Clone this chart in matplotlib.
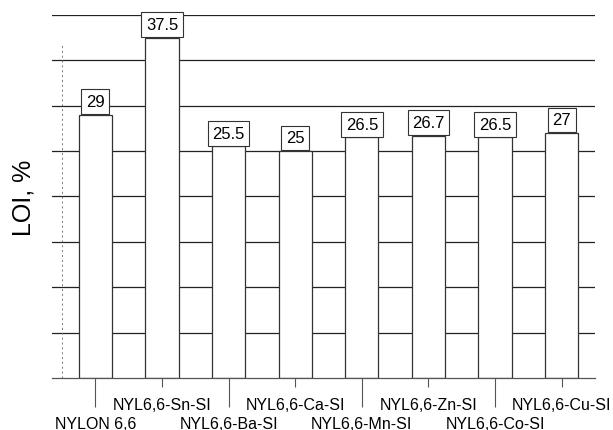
import matplotlib
matplotlib.use("Agg")
import matplotlib.pyplot as plt
import numpy as np

plt.rcParams["font.family"] = ["Liberation Sans", "DejaVu Sans"]

samples = [
    "NYLON 6,6",
    "NYL6,6-Sn-SI",
    "NYL6,6-Ba-SI",
    "NYL6,6-Ca-SI",
    "NYL6,6-Mn-SI",
    "NYL6,6-Zn-SI",
    "NYL6,6-Co-SI",
    "NYL6,6-Cu-SI",
]
loi = [29, 37.5, 25.5, 25, 26.5, 26.7, 26.5, 27]
value_text = ["29", "37.5", "25.5", "25", "26.5", "26.7", "26.5", "27"]

x = np.arange(len(samples))

fig = plt.figure(figsize=(6.13, 4.31), dpi=100)
ax = fig.add_axes([0.085, 0.1206, 0.8856, 0.8427])

# horizontal grid every 5 units, behind the bars
for level in np.arange(5, 41, 5):
    ax.axhline(level, color="#222222", linewidth=0.9, zorder=0)
ax.axvline(-0.5, ymax=0.92, color="#777777", linewidth=0.7,
           linestyle=(0, (2, 3)), zorder=0)

ax.bar(x, loi, width=0.5, color="white", edgecolor="#333333",
       linewidth=0.9, zorder=2)

for xi, val, txt in zip(x, loi, value_text):
    ax.annotate(txt, (xi, val), xytext=(0, 4), textcoords="offset points",
                ha="center", va="bottom", fontsize=12, zorder=3,
                bbox=dict(boxstyle="square,pad=0.28", facecolor="white",
                          edgecolor="#333333", linewidth=0.8))

ax.set_xlim(-0.65, 7.5)
ax.set_ylim(0, 40)
ax.set_yticks([])

# staggered category labels: upper row on major ticks, lower row on minor
upper = x[1::2]
lower = x[0::2]
ax.set_xticks(upper, [samples[i] for i in upper])
ax.set_xticks(lower, [samples[i] for i in lower], minor=True)
ax.tick_params(axis="x", which="major", length=6.5, width=0.8,
               color="#555555", pad=7, labelsize=11.5)
ax.tick_params(axis="x", which="minor", length=21, width=0.8,
               color="#555555", pad=6, labelsize=11.5)

for side in ["top", "right", "left"]:
    ax.spines[side].set_visible(False)
ax.spines["bottom"].set_color("#555555")
ax.spines["bottom"].set_linewidth(0.9)

ax.set_ylabel("LOI, %", fontsize=18, labelpad=12)

fig.savefig("out.png", dpi=100)
